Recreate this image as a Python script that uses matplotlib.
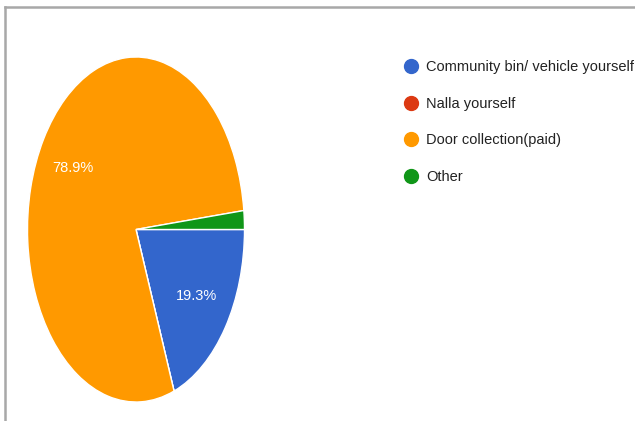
import matplotlib
matplotlib.use("Agg")
import matplotlib.pyplot as plt
from matplotlib.lines import Line2D

# Survey responses: how household waste is disposed of
categories = ["Community bin/ vehicle yourself", "Nalla yourself",
              "Door collection(paid)", "Other"]
counts = [11, 0, 45, 1]
colors = ["#3366cc", "#dc3912", "#ff9900", "#109618"]

plt.rcParams["font.family"] = ["Liberation Sans", "DejaVu Sans"]

W, H = 635, 421
fig = plt.figure(figsize=(W / 100, H / 100), dpi=100)

# Pie area (pixel box, stretched vertically)
left, right, top, bottom = 27.5, 244.5, 57.0, 402.0
ax = fig.add_axes([left / W, 1 - bottom / H, (right - left) / W, (bottom - top) / H])


def pct_label(p):
    return f"{p:.1f}%" if p >= 5 else ""


wedges, texts, autotexts = ax.pie(
    counts, colors=colors, startangle=0, counterclock=False,
    autopct=pct_label, pctdistance=0.68,
    wedgeprops=dict(edgecolor="white", linewidth=1.0),
    textprops=dict(color="white", fontsize=10.5),
)
ax.set_aspect("auto")
ax.set_xlim(-1, 1)
ax.set_ylim(-1, 1)
ax.axis("off")

# Legend with round markers
handles = [Line2D([], [], marker="o", linestyle="none", markersize=10,
                  markerfacecolor=c, markeredgecolor=c) for c in colors]
fig.legend(handles, categories, loc="upper left",
           bbox_to_anchor=(404 / W, 1 - 60 / H), frameon=False,
           fontsize=10.5, labelcolor="#222222", handletextpad=0.5,
           labelspacing=1.55, handlelength=1.0, borderaxespad=0, borderpad=0)

# Card border (top and left edges)
fig.add_artist(Line2D([5 / W, 1], [1 - 7 / H, 1 - 7 / H], color="#a8a8a8",
                      linewidth=1.8, transform=fig.transFigure))
fig.add_artist(Line2D([5 / W, 5 / W], [0, 1 - 7 / H], color="#a8a8a8",
                      linewidth=1.8, transform=fig.transFigure))

fig.savefig("out.png", dpi=100, facecolor="white")
